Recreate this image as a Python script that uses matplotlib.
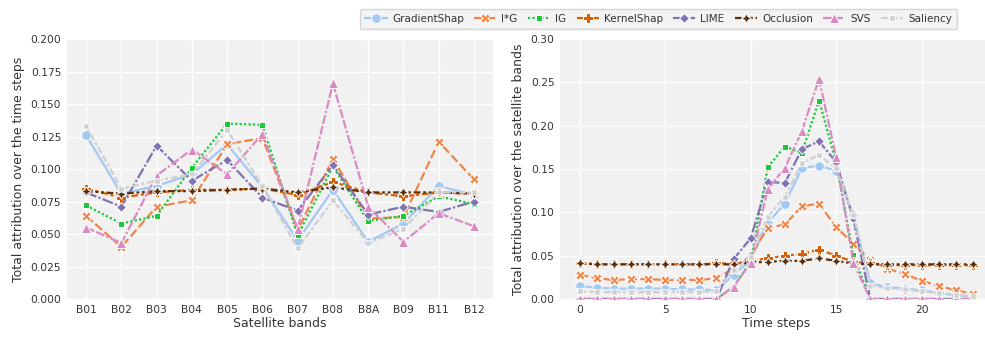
import numpy as np
import matplotlib.pyplot as plt
from matplotlib.ticker import FormatStrFormatter

# band-wise attribution (summed over time steps)
bands = ['B01', 'B02', 'B03', 'B04', 'B05', 'B06', 'B07', 'B08', 'B8A', 'B09', 'B11', 'B12']
gs_band = [0.126, 0.081, 0.087, 0.096, 0.119, 0.086, 0.045, 0.084, 0.044, 0.058, 0.087, 0.080]
ixg_band = [0.064, 0.040, 0.071, 0.076, 0.119, 0.124, 0.053, 0.108, 0.062, 0.063, 0.121, 0.092]
ig_band = [0.072, 0.058, 0.064, 0.101, 0.135, 0.134, 0.049, 0.102, 0.060, 0.064, 0.079, 0.073]
ks_band = [0.085, 0.078, 0.082, 0.084, 0.084, 0.085, 0.080, 0.090, 0.082, 0.079, 0.082, 0.081]
lime_band = [0.082, 0.071, 0.118, 0.091, 0.107, 0.078, 0.068, 0.103, 0.065, 0.071, 0.067, 0.075]
occ_band = [0.083, 0.081, 0.083, 0.083, 0.084, 0.085, 0.082, 0.086, 0.082, 0.082, 0.082, 0.081]
svs_band = [0.055, 0.043, 0.095, 0.115, 0.096, 0.127, 0.054, 0.166, 0.071, 0.044, 0.066, 0.056]
sal_band = [0.133, 0.085, 0.091, 0.096, 0.130, 0.087, 0.039, 0.076, 0.043, 0.054, 0.082, 0.082]

# time-wise attribution (summed over satellite bands)
steps = np.arange(24)
gs_time = [0.015, 0.013, 0.012, 0.012, 0.012, 0.012, 0.011, 0.011, 0.010, 0.028, 0.045, 0.088,
           0.110, 0.151, 0.154, 0.148, 0.097, 0.018, 0.014, 0.012, 0.010, 0.007, 0.004, 0.003]
ixg_time = [0.028, 0.024, 0.022, 0.023, 0.023, 0.022, 0.022, 0.022, 0.024, 0.035, 0.050, 0.082,
            0.086, 0.107, 0.110, 0.083, 0.064, 0.045, 0.035, 0.029, 0.021, 0.015, 0.010, 0.006]
ig_time = [0.0, 0.0, 0.0, 0.0, 0.0, 0.0, 0.0, 0.0, 0.0, 0.014, 0.043, 0.152,
           0.176, 0.169, 0.229, 0.158, 0.051, 0.0, 0.0, 0.0, 0.0, 0.0, 0.0, 0.0]
ks_time = [0.042, 0.040, 0.040, 0.040, 0.040, 0.040, 0.040, 0.040, 0.041, 0.041, 0.044, 0.047,
           0.050, 0.052, 0.057, 0.050, 0.043, 0.041, 0.039, 0.039, 0.039, 0.039, 0.039, 0.039]
lime_time = [0.0, 0.0, 0.0, 0.0, 0.0, 0.0, 0.0, 0.0, 0.0, 0.046, 0.070, 0.135,
             0.134, 0.173, 0.182, 0.158, 0.093, 0.0, 0.0, 0.0, 0.0, 0.0, 0.0, 0.0]
occ_time = [0.041, 0.040, 0.040, 0.040, 0.040, 0.040, 0.040, 0.040, 0.040, 0.040, 0.042, 0.043,
            0.044, 0.044, 0.047, 0.044, 0.041, 0.040, 0.040, 0.040, 0.040, 0.040, 0.040, 0.040]
svs_time = [0.0, 0.0, 0.0, 0.0, 0.0, 0.0, 0.0, 0.0, 0.0, 0.014, 0.042, 0.127,
            0.151, 0.194, 0.254, 0.164, 0.042, 0.0, 0.0, 0.0, 0.0, 0.0, 0.0, 0.0]
sal_time = [0.009, 0.008, 0.008, 0.008, 0.008, 0.008, 0.008, 0.008, 0.009, 0.033, 0.049, 0.095,
            0.118, 0.157, 0.166, 0.151, 0.097, 0.015, 0.013, 0.011, 0.009, 0.007, 0.005, 0.003]

methods = ['GradientShap', 'I*G', 'IG', 'KernelShap', 'LIME', 'Occlusion', 'SVS', 'Saliency']
band_data = [gs_band, ixg_band, ig_band, ks_band, lime_band, occ_band, svs_band, sal_band]
time_data = [gs_time, ixg_time, ig_time, ks_time, lime_time, occ_time, svs_time, sal_time]

colors = ['#a1c9f4', '#ee854a', '#1ac938', '#d95f02', '#8172b3', '#592f0d', '#da8bc3', '#cfcfcf']
markers = ['o', 'X', (4, 0, 45), 'P', (4, 0, 0), (4, 1, 0), '^', (4, 1, 45)]
dashes = [(), (4, 1.5), (1, 1), (3, 1.25, 1.5, 1.25), (5, 1, 1, 1),
          (3, 1.25, 1.25, 1.25, 1.25, 1.25), (4, 1, 4, 1, 1, 1), (3, 1.25, 3, 1.25, 1.25, 1.25)]

bg = '#f1f1f1'
txt = '#333333'

fig = plt.figure(figsize=(9.85, 3.38), dpi=100)
ax1 = fig.add_axes([0.0677, 0.1154, 0.4332, 0.769])
ax2 = fig.add_axes([0.5685, 0.1154, 0.4392, 0.769])


def draw(ax, x, data):
    handles = []
    for name, vals, c, m, d in zip(methods, data, colors, markers, dashes):
        ln, = ax.plot(x, vals, color=c, marker=m, markersize=7, markeredgecolor='white',
                      markeredgewidth=0.7, lw=1.6, label=name)
        if d:
            ln.set_dashes(d)
        handles.append(ln)
    ax.set_facecolor(bg)
    ax.grid(color='white', lw=1.0)
    ax.set_axisbelow(True)
    for s in ax.spines.values():
        s.set_visible(False)
    ax.tick_params(length=0, labelsize=7.7, colors=txt, pad=4)
    return handles


xb = np.arange(len(bands))
handles = draw(ax1, xb, band_data)
ax1.set_xticks(xb)
ax1.set_xticklabels(bands)
ax1.set_xlim(-0.55, len(bands) - 1 + 0.55)
ax1.set_ylim(0, 0.2)
ax1.set_yticks(np.arange(0, 0.2001, 0.025))
ax1.yaxis.set_major_formatter(FormatStrFormatter('%.3f'))
ax1.set_xlabel('Satellite bands', fontsize=9, color=txt, labelpad=2)
ax1.set_ylabel('Total attribution over the time steps', fontsize=9, color=txt)

draw(ax2, steps, time_data)
ax2.set_xticks([0, 5, 10, 15, 20])
ax2.set_xlim(-1.15, 24.15)
ax2.set_ylim(0, 0.3)
ax2.set_yticks(np.arange(0, 0.3001, 0.05))
ax2.yaxis.set_major_formatter(FormatStrFormatter('%.2f'))
ax2.set_xlabel('Time steps', fontsize=9, color=txt, labelpad=2)
ax2.set_ylabel('Total attribution over the satellite bands', fontsize=9, color=txt)

leg = fig.legend(handles, methods, loc='upper left', bbox_to_anchor=(0.3605, 0.988), ncol=8,
                 fontsize=7.5, frameon=True, fancybox=True, facecolor=bg, edgecolor='#cccccc',
                 handlelength=2.1, columnspacing=1.0, handletextpad=0.5, borderpad=0.45)
for t in leg.get_texts():
    t.set_color(txt)

fig.savefig('out.png', dpi=100)
